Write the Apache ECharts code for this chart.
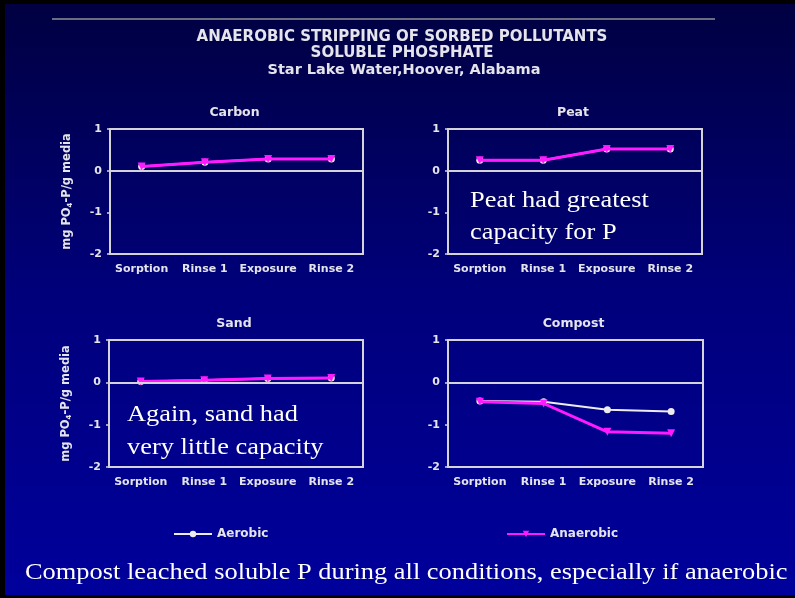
<!DOCTYPE html>
<html>
<head>
<meta charset="utf-8">
<script src="https://cdn.jsdelivr.net/npm/echarts@6/dist/echarts.min.js"></script>
<style>
  html, body { margin: 0; padding: 0; background: #000; }
  #chart { width: 795px; height: 598px; }
</style>
</head>
<body>
<div id="chart"></div>
<script>
// Categories shared by all four panels
const categories = ['Sorption', 'Rinse 1', 'Exposure', 'Rinse 2'];
const yTicks = [-2, -1, 0, 1];

// mg PO4-P per g media, by media type
const carbonAerobic    = [0.10, 0.20, 0.28, 0.28];
const carbonAnaerobic  = [0.10, 0.20, 0.28, 0.28];
const peatAerobic      = [0.25, 0.25, 0.52, 0.52];
const peatAnaerobic    = [0.25, 0.25, 0.52, 0.52];
const sandAerobic      = [0.02, 0.05, 0.09, 0.10];
const sandAnaerobic    = [0.02, 0.05, 0.09, 0.10];
const compostAerobic   = [-0.44, -0.46, -0.65, -0.69];
const compostAnaerobic = [-0.46, -0.50, -1.17, -1.20];

const panelTitles = ['Carbon', 'Peat', 'Sand', 'Compost'];
const seriesNames = ['Aerobic', 'Anaerobic'];

const panels = [
  { title: panelTitles[0], aer: carbonAerobic,  ana: carbonAnaerobic,  grid: { left: 110, top: 129, width: 253, height: 125 }, yName: true },
  { title: panelTitles[1], aer: peatAerobic,    ana: peatAnaerobic,    grid: { left: 448, top: 129, width: 254, height: 125 }, yName: false },
  { title: panelTitles[2], aer: sandAerobic,    ana: sandAnaerobic,    grid: { left: 109, top: 340, width: 254, height: 127 }, yName: true },
  { title: panelTitles[3], aer: compostAerobic, ana: compostAnaerobic, grid: { left: 448, top: 340, width: 255, height: 127 }, yName: false }
];

const frame = '#d4d4d8';
const txt = '#e4e4ea';
const sans = '"DejaVu Sans", Verdana, sans-serif';
const serif = '"Liberation Serif", "Times New Roman", serif';
const white = '#ececf0';
const magenta = '#ff1aff';

const grids = [], xAxes = [], yAxes = [], series = [];
panels.forEach((p, i) => {
  grids.push(Object.assign({ show: true, borderColor: frame, borderWidth: 2, backgroundColor: 'transparent' }, p.grid));
  xAxes.push({
    type: 'category', gridIndex: i, data: categories, boundaryGap: true,
    axisLine: { lineStyle: { color: frame, width: 2 } },
    axisTick: { alignWithLabel: true, length: 3, lineStyle: { color: frame, width: 1.5 } },
    axisLabel: { interval: 0, color: txt, fontFamily: sans, fontWeight: 'bold', fontSize: 11, margin: 10 }
  });
  yAxes.push({
    type: 'value', gridIndex: i, min: yTicks[0], max: yTicks[yTicks.length - 1], interval: 1,
    axisLine: { show: true, lineStyle: { color: frame, width: 2 } },
    axisTick: { show: true, length: 3, lineStyle: { color: frame, width: 1.5 } },
    splitLine: { show: false },
    axisLabel: { color: txt, fontFamily: sans, fontWeight: 'bold', fontSize: 11, margin: 8 },
    name: p.yName ? 'mg PO{s|4}-P/g media' : '',
    nameLocation: 'middle', nameRotate: 90, nameGap: 36,
    nameTextStyle: {
      color: txt, fontFamily: sans, fontWeight: 'bold', fontSize: 11.5,
      rich: { s: { fontSize: 7, fontFamily: sans, fontWeight: 'bold', color: txt, verticalAlign: 'bottom', padding: [6, 0, 0, 0] } }
    }
  });
  series.push({
    name: seriesNames[0], type: 'line', xAxisIndex: i, yAxisIndex: i, data: p.aer,
    symbol: 'circle', symbolSize: 7,
    lineStyle: { color: white, width: 2 }, itemStyle: { color: white },
    markLine: {
      silent: true, symbol: 'none', label: { show: false },
      lineStyle: { color: frame, width: 2, type: 'solid' },
      data: [{ yAxis: 0 }]
    },
    z: 3
  });
  series.push({
    name: seriesNames[1], type: 'line', xAxisIndex: i, yAxisIndex: i, data: p.ana,
    symbol: 'triangle', symbolRotate: 180, symbolSize: 8,
    lineStyle: { color: magenta, width: 3 }, itemStyle: { color: magenta },
    z: 4
  });
});

// Panel headings, centred over each plot area
const panelHeads = panels.map((p) => ({
  type: 'text',
  x: p.grid.left + p.grid.width / 2 - 2,
  y: p.grid.top - 16,
  style: { text: p.title, fill: txt, font: 'bold 12.5px ' + sans, textAlign: 'center', textVerticalAlign: 'middle' }
}));

// Serif annotations are set slightly wide
function note(x, y, text, size, sx) {
  return {
    type: 'text', x: x, y: y, scaleX: sx, silent: true,
    style: { text: text, fill: '#ffffff', font: size + 'px ' + serif, textAlign: 'left', textVerticalAlign: 'middle' }
  };
}

const legendText = { color: txt, fontFamily: sans, fontWeight: 'bold', fontSize: 12 };

const option = {
  backgroundColor: '#000',
  animation: false,
  grid: grids,
  xAxis: xAxes,
  yAxis: yAxes,
  series: series,
  legend: [
    { data: [seriesNames[0]], left: 173, top: 528, padding: 0, itemWidth: 38, itemHeight: 8, textStyle: legendText },
    { data: [seriesNames[1]], left: 506, top: 528, padding: 0, itemWidth: 38, itemHeight: 8, textStyle: legendText }
  ],
  graphic: [
    {
      type: 'rect', z: -10, silent: true,
      shape: { x: 5, y: 4, width: 790, height: 591 },
      style: {
        fill: new echarts.graphic.LinearGradient(0, 0, 0, 1, [
          { offset: 0, color: '#000042' },
          { offset: 0.5, color: '#00007c' },
          { offset: 1, color: '#00009c' }
        ])
      }
    },
    {
      type: 'line', silent: true,
      shape: { x1: 52, y1: 19, x2: 715, y2: 19 },
      style: { stroke: '#6c6c80', lineWidth: 2 }
    },
    { type: 'text', x: 402, y: 37, style: { text: 'ANAEROBIC STRIPPING OF SORBED POLLUTANTS', fill: txt, font: 'bold 15px ' + sans, textAlign: 'center', textVerticalAlign: 'middle' } },
    { type: 'text', x: 402, y: 53, style: { text: 'SOLUBLE PHOSPHATE', fill: txt, font: 'bold 15px ' + sans, textAlign: 'center', textVerticalAlign: 'middle' } },
    { type: 'text', x: 404, y: 70, style: { text: 'Star Lake Water,Hoover, Alabama', fill: txt, font: 'bold 14.5px ' + sans, textAlign: 'center', textVerticalAlign: 'middle' } },
    ...panelHeads,
    note(470, 201, 'Peat had greatest', 24, 1.1),
    note(470, 233, 'capacity for P', 24, 1.1),
    note(127, 415, 'Again, sand had', 24, 1.1),
    note(127, 448, 'very little capacity', 24, 1.1),
    note(25, 573, 'Compost leached soluble P during all conditions, especially if anaerobic', 24, 1.1)
  ]
};

const chart = echarts.init(document.getElementById('chart'), null, { renderer: 'canvas' });
chart.setOption(option);
</script>
</body>
</html>
